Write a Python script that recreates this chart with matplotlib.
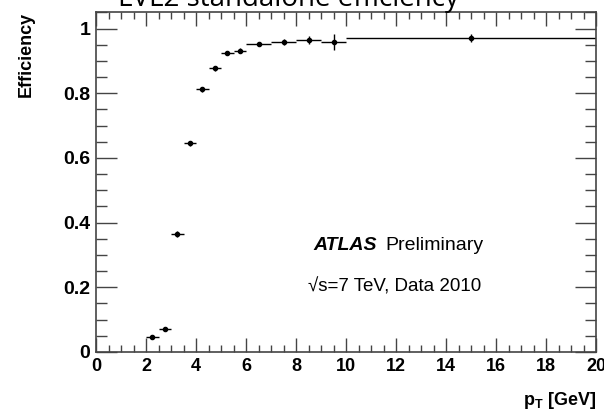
import numpy as np
import matplotlib
matplotlib.use("Agg")
import matplotlib.pyplot as plt
from matplotlib.ticker import MultipleLocator

plt.rcParams['font.family'] = ['Liberation Sans', 'DejaVu Sans']
plt.rcParams['mathtext.fontset'] = 'custom'
plt.rcParams['mathtext.rm'] = 'Liberation Sans'
plt.rcParams['mathtext.bf'] = 'Liberation Sans:bold'

# pT bins [GeV] and efficiency values
bin_lo = [2.0, 2.5, 3.0, 3.5, 4.0, 4.5, 5.0, 5.5, 6.0, 7.0, 8.0, 9.0, 10.0]
bin_hi = [2.5, 3.0, 3.5, 4.0, 4.5, 5.0, 5.5, 6.0, 7.0, 8.0, 9.0, 10.0, 20.0]
eff = [0.045, 0.071, 0.365, 0.646, 0.813, 0.878, 0.925, 0.932,
       0.953, 0.959, 0.965, 0.959, 0.971]
eff_err = [0.004, 0.005, 0.008, 0.008, 0.008, 0.008, 0.007, 0.008,
           0.006, 0.008, 0.012, 0.025, 0.012]

lo = np.array(bin_lo)
hi = np.array(bin_hi)
x = 0.5 * (lo + hi)
xerr = 0.5 * (hi - lo)

fig = plt.figure(figsize=(6.04, 4.11), dpi=100)
ax = fig.add_axes([0.159, 0.1436, 0.828, 0.8260])

ax.errorbar(x, eff, xerr=xerr, yerr=eff_err, fmt='o', color='black',
            markersize=3, elinewidth=1.0, capsize=0)

ax.set_xlim(0, 20)
ax.set_ylim(0, 1.05)
ax.xaxis.set_minor_locator(MultipleLocator(0.5))
ax.yaxis.set_minor_locator(MultipleLocator(0.05))
ax.set_xticks(np.arange(0, 21, 2))
ax.set_xticklabels([str(v) for v in range(0, 21, 2)])
ax.set_yticks([0, 0.2, 0.4, 0.6, 0.8, 1.0])
ax.set_yticklabels(['0', '0.2', '0.4', '0.6', '0.8', '1'])

for s in ax.spines.values():
    s.set_color('#444444')
    s.set_linewidth(1.2)
ax.tick_params(which='both', direction='in', top=True, right=True,
               color='#444444', width=1.0)
ax.tick_params(axis='x', which='major', length=10, pad=4, labelsize=13)
ax.tick_params(axis='x', which='minor', length=5)
ax.tick_params(axis='y', which='major', length=15, pad=4, labelsize=14)
ax.tick_params(axis='y', which='minor', length=8)
for lab in ax.get_xticklabels() + ax.get_yticklabels():
    lab.set_fontweight('bold')

ax.text(-0.14, 1.003, 'Efficiency', transform=ax.transAxes, rotation=90,
        ha='center', va='top', fontsize=13, fontweight='bold')
ax.text(1.0, -0.156, r'p$_\mathbf{T}$ [GeV]', transform=ax.transAxes,
        ha='right', va='baseline', fontsize=13, fontweight='bold')

ax.text(8.68, 0.316, 'ATLAS', fontsize=14, fontweight='bold',
        fontstyle='italic', ha='left', va='baseline')
ax.text(11.56, 0.316, 'Preliminary', fontsize=14, ha='left', va='baseline')
ax.text(8.48, 0.186, '\u221as=7 TeV, Data 2010', fontsize=13.5,
        ha='left', va='baseline')

fig.text(0.478, 1 - 6 / 411, 'LVL2 standalone efficiency', fontsize=20,
         family='Open Sans', ha='center', va='baseline')

fig.savefig('out.png', dpi=100)
